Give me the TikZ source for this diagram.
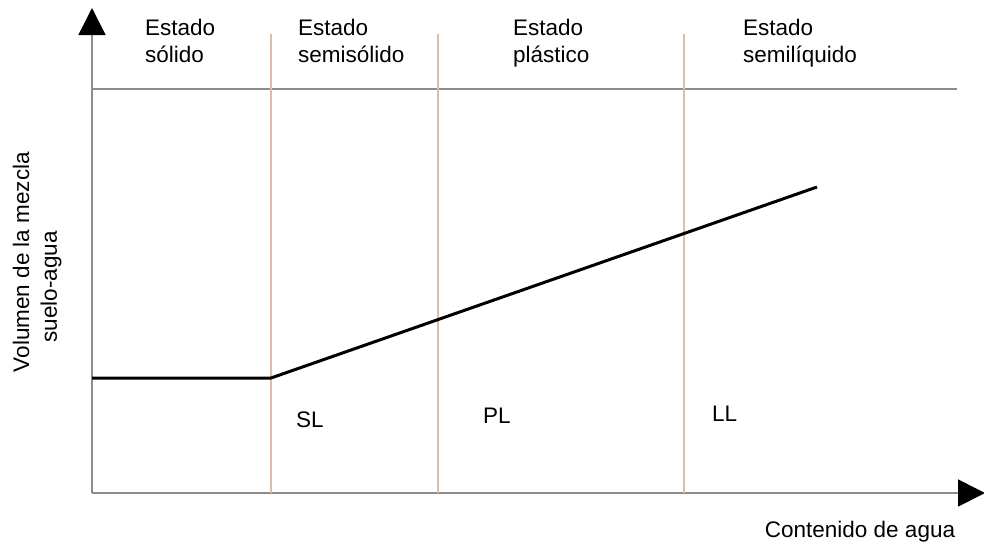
\documentclass[tikz,border=0pt]{standalone}
\usepackage{fontspec}
\setmainfont{Liberation Sans}
\usetikzlibrary{arrows.meta}
\definecolor{grisEje}{RGB}{140,140,140}
\definecolor{rojoLimite}{RGB}{222,186,176}
\begin{document}
\begin{tikzpicture}[x=1pt,y=-1pt,
	eje/.style={draw=grisEje,line width=1.6pt},
	flecha/.style={-{Triangle[length=27pt,width=27pt,color=black]}},
	limite/.style={draw=rojoLimite,line width=1.3pt},
	curva/.style={draw=black,line width=3pt,line join=round},
	texto/.style={inner sep=0pt,font=\fontsize{22.5}{27}\selectfont},
	estado/.style={texto,anchor=north west,align=left}]
	\useasboundingbox (0,0) rectangle (984,549);
	\coordinate (origen) at (92,493);
	\coordinate (ytope) at (92,8);
	\coordinate (xtope) at (985,493);
	\coordinate (hizq) at (92,89);
	\coordinate (hder) at (957,89);
	\draw[eje,flecha] (origen) -- (ytope);
	\draw[eje,flecha] (origen) -- (xtope);
	\draw[eje] (hizq) -- (hder);
	\foreach \x/\n in {271/sl,438/pl,684/ll}{
		\coordinate (\n-arriba) at (\x,34);
		\coordinate (\n-abajo) at (\x,493);
		\draw[limite] (\n-arriba) -- (\n-abajo);
	}
	\coordinate (c1) at (92,378);
	\coordinate (c2) at (271,378);
	\coordinate (c3) at (817,187);
	\draw[curva] (c1) -- (c2) -- (c3);
	\node[estado] (solido) at (145,19) {Estado\\sólido};
	\node[estado] (semisolido) at (298,19) {Estado\\semisólido};
	\node[estado] (plastico) at (513,19) {Estado\\plástico};
	\node[estado] (semiliquido) at (743,19) {Estado\\semilíquido};
	\node[texto,anchor=base west] (SL) at (296,427) {SL};
	\node[texto,anchor=base west] (PL) at (483,423) {PL};
	\node[texto,anchor=base west] (LL) at (712,421) {LL};
	\node[texto,rotate=90] (ylabel1) at (21,262) {Volumen de la mezcla};
	\node[texto,rotate=90] (ylabel2) at (51,287) {suelo-agua};
	\node[texto] (xlabel) at (860,532) {Contenido de agua};
\end{tikzpicture}
\end{document}
